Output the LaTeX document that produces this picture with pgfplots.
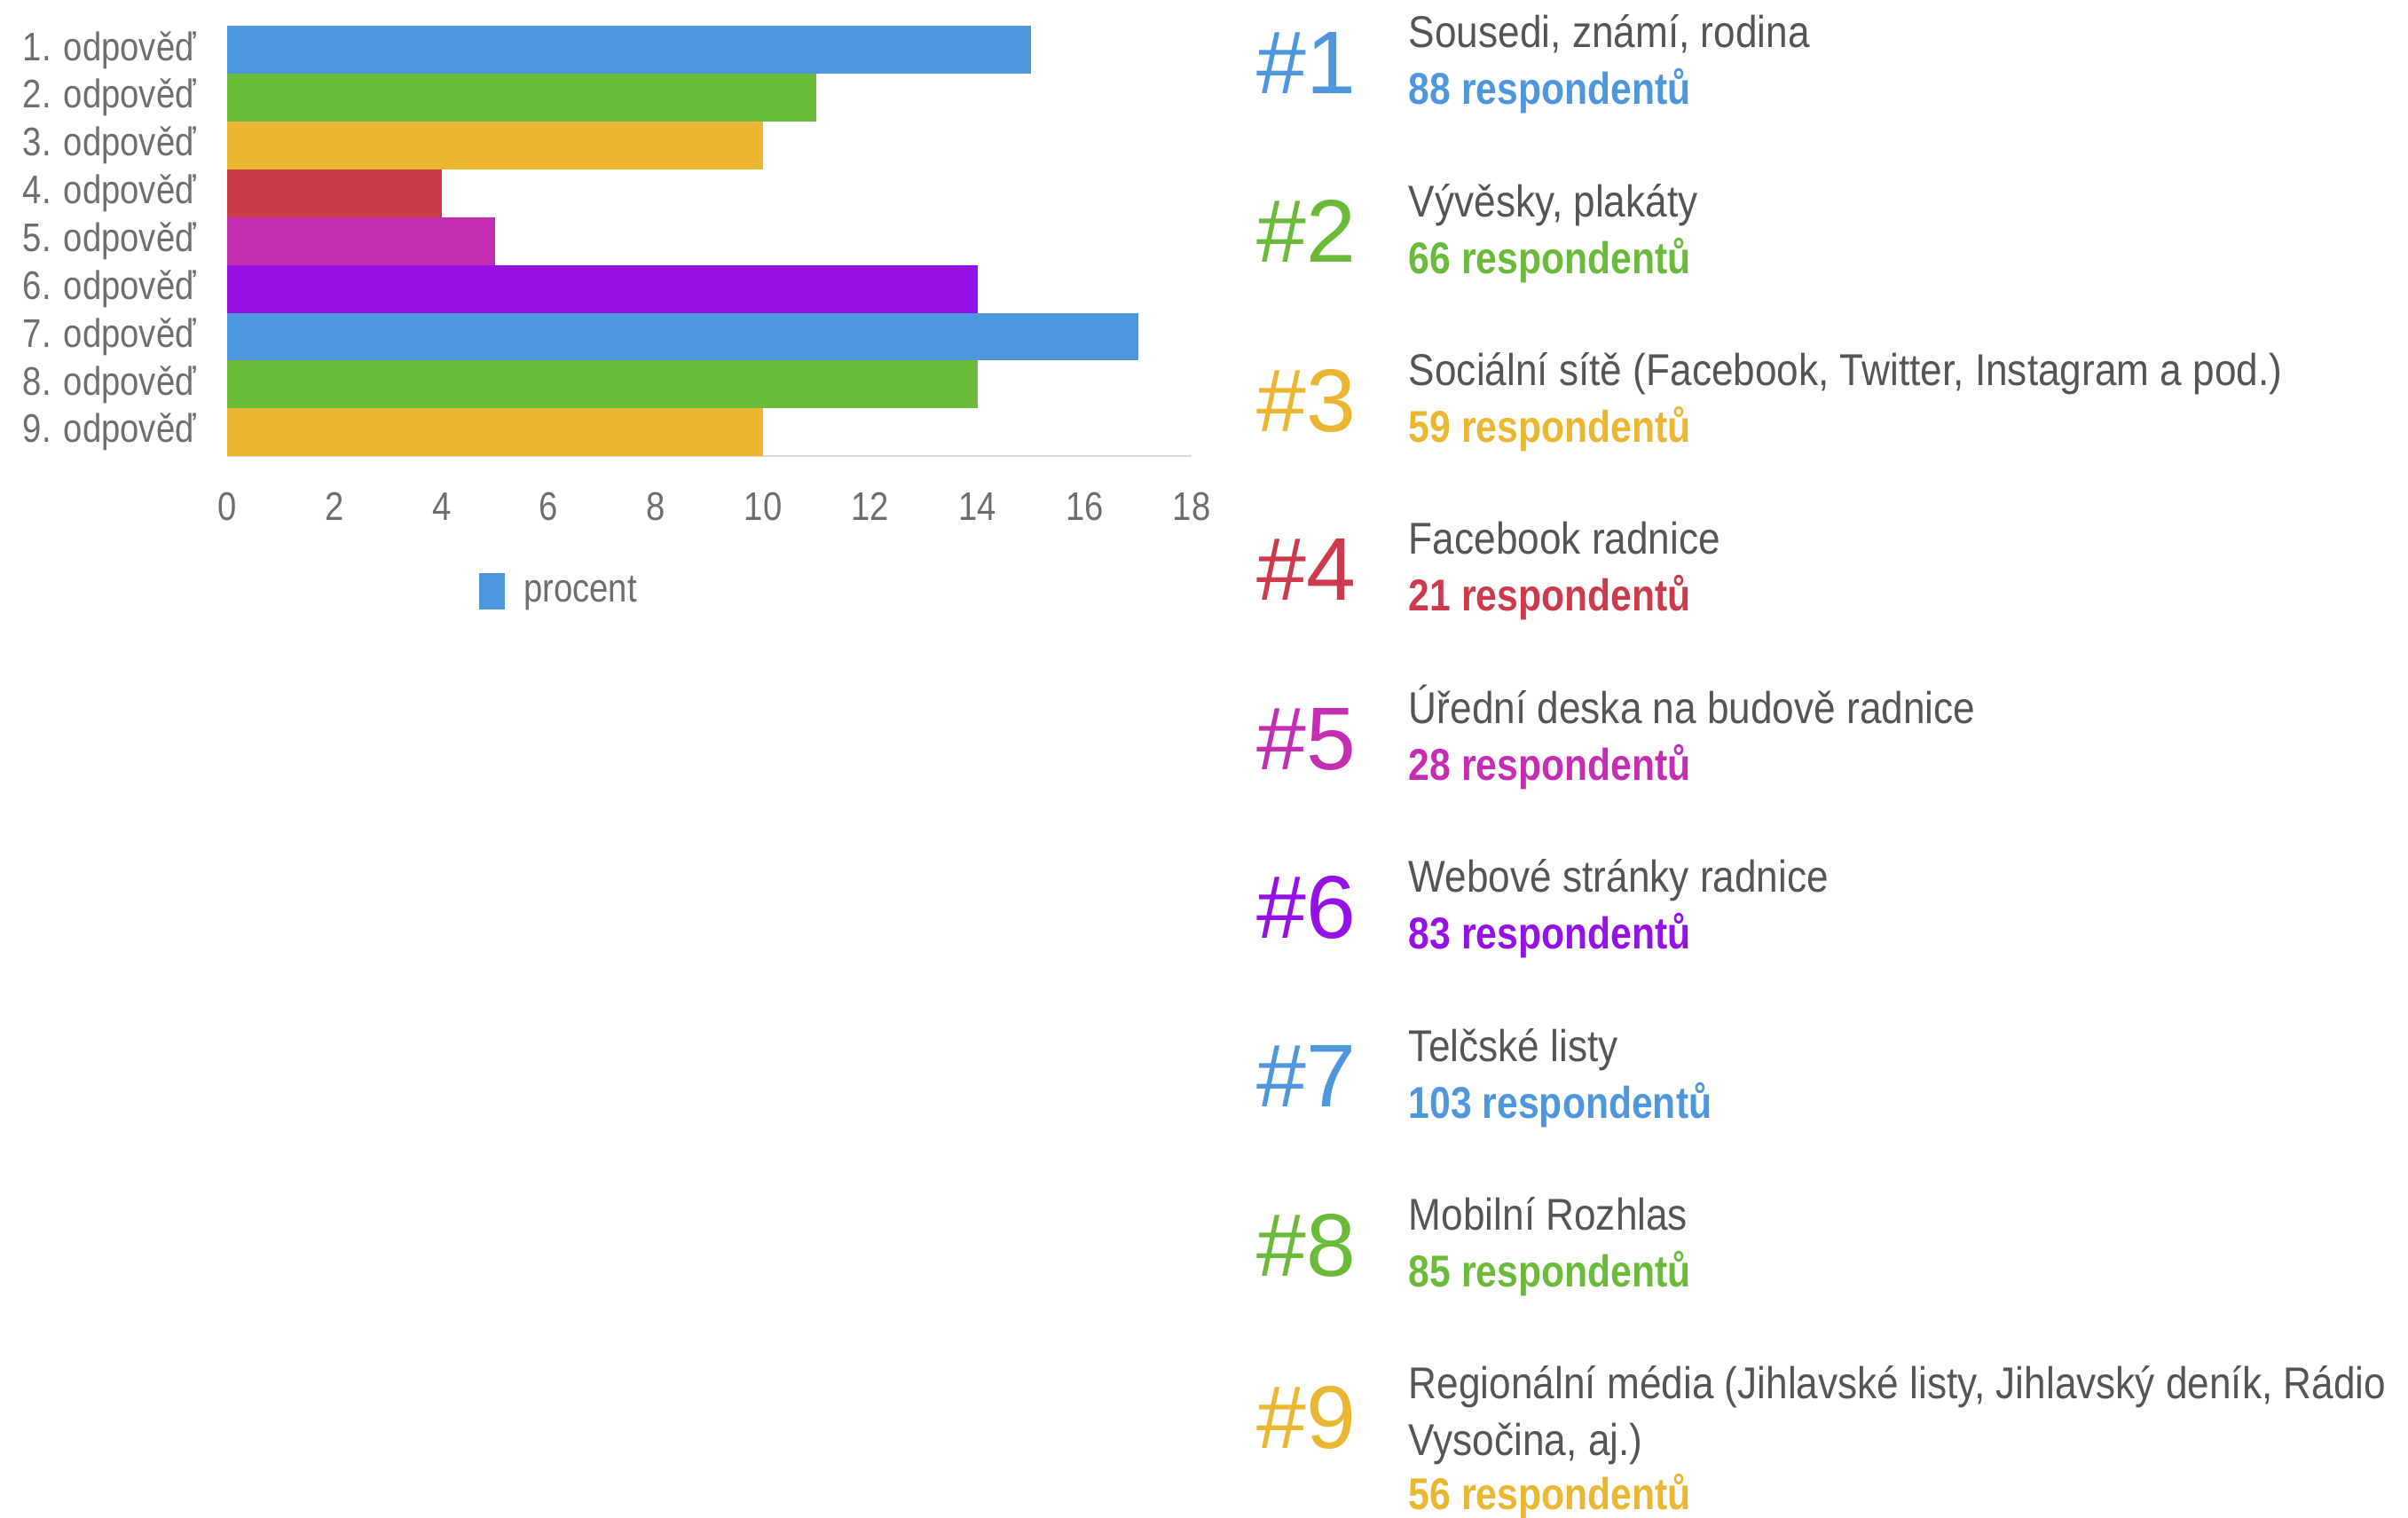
\documentclass[border=0pt]{standalone}
\usepackage{fontspec}
\setmainfont{Liberation Sans}[FakeStretch=0.88]
\newfontfamily\lblfont{Liberation Sans}[FakeStretch=0.85]
\newfontfamily\hashfont{Liberation Sans}
\newfontfamily\boldcond{Liberation Sans Bold}[FakeStretch=0.85]
\usepackage{pgfplots}
\pgfplotsset{compat=1.18}
\definecolor{cblue}{HTML}{4E96DE}
\definecolor{cgreen}{HTML}{6BBB3B}
\definecolor{cyellow}{HTML}{EBB631}
\definecolor{cred}{HTML}{CC3A4C}
\definecolor{cmag}{HTML}{C52DB3}
\definecolor{cpurp}{HTML}{9511E6}
\definecolor{tgray}{HTML}{555555}
\definecolor{lgray}{HTML}{6E6E6E}

\newcommand\entry[4]{%
  \node[anchor=base west, inner sep=0pt, text=#2, font=\hashfont\fontsize{29}{34}\selectfont] at ({409pt},{-(30.5+55*(#1-1))*1pt}) {\#{}#1};
  \node[anchor=base west, inner sep=0pt, text=tgray, font=\fontsize{14.5}{17}\selectfont] at ({458.5pt},{-(15.5+55*(#1-1))*1pt}) {#3};
  \node[anchor=base west, inner sep=0pt, text=#2, font=\boldcond\fontsize{14.5}{17}\selectfont] at ({458.5pt},{-(34+55*(#1-1))*1pt}) {#4 respondentů};
}

\begin{document}
\begin{tikzpicture}
\path[use as bounding box] (0,0) rectangle (784pt,-494pt);
\begin{axis}[
  at={(74pt,-148.5pt)}, anchor=south west,
  scale only axis, width=314pt, height=140pt,
  xbar, bar width=1, bar shift=0pt,
  xmin=0, xmax=18, ymin=0.5, ymax=9.5, y dir=reverse,
  axis y line*=left, axis x line*=bottom,
  y axis line style={draw=none},
  x axis line style={-, draw=black!15, line width=0.6pt},
  major tick length=0pt,
  xtick={0,2,...,18},
  ytick={1,...,9},
  yticklabels={1. odpověď,2. odpověď,3. odpověď,4. odpověď,5. odpověď,6. odpověď,7. odpověď,8. odpověď,9. odpověď},
  /pgf/number format/assume math mode=true,
  xticklabel style={anchor=center, yshift=-16.5pt, text=lgray, font=\lblfont\fontsize{13}{15}\selectfont},
  yticklabel style={anchor=east, inner sep=0pt, xshift=-10pt, text=lgray, font=\lblfont\fontsize{13}{15}\selectfont},
  legend style={draw=none, at={(0.346,-0.315)}, anchor=center, font=\lblfont\fontsize{13}{15}\selectfont, text=lgray, inner sep=0pt},
  legend image code/.code={\fill[cblue] (0pt,-6pt) rectangle (8.5pt,6pt);},
  clip=false,
]
\addplot[fill=cblue, draw=none] coordinates {(15,1)};
\addlegendentry{\hspace{4pt}procent}
\addplot[fill=cgreen, draw=none, forget plot] coordinates {(11,2)};
\addplot[fill=cyellow, draw=none, forget plot] coordinates {(10,3)};
\addplot[fill=cred, draw=none, forget plot] coordinates {(4,4)};
\addplot[fill=cmag, draw=none, forget plot] coordinates {(5,5)};
\addplot[fill=cpurp, draw=none, forget plot] coordinates {(14,6)};
\addplot[fill=cblue, draw=none, forget plot] coordinates {(17,7)};
\addplot[fill=cgreen, draw=none, forget plot] coordinates {(14,8)};
\addplot[fill=cyellow, draw=none, forget plot] coordinates {(10,9)};
\end{axis}

\entry{1}{cblue}{Sousedi, známí, rodina}{88}
\entry{2}{cgreen}{Vývěsky, plakáty}{66}
\entry{3}{cyellow}{Sociální sítě (Facebook, Twitter, Instagram a pod.)}{59}
\entry{4}{cred}{Facebook radnice}{21}
\entry{5}{cmag}{Úřední deska na budově radnice}{28}
\entry{6}{cpurp}{Webové stránky radnice}{83}
\entry{7}{cblue}{Telčské listy}{103}
\entry{8}{cgreen}{Mobilní Rozhlas}{85}
% item 9 with two-line title
\node[anchor=base west, inner sep=0pt, text=cyellow, font=\hashfont\fontsize{29}{34}\selectfont] at (409pt,-471.5pt) {\#{}9};
\node[anchor=base west, inner sep=0pt, text=tgray, font=\fontsize{14.5}{17}\selectfont] at (458.5pt,-455.5pt) {Regionální média (Jihlavské listy, Jihlavský deník, Rádio};
\node[anchor=base west, inner sep=0pt, text=tgray, font=\fontsize{14.5}{17}\selectfont] at (458.5pt,-474pt) {Vysočina, aj.)};
\node[anchor=base west, inner sep=0pt, text=cyellow, font=\boldcond\fontsize{14.5}{17}\selectfont] at (458.5pt,-491.5pt) {56 respondentů};
\end{tikzpicture}
\end{document}
